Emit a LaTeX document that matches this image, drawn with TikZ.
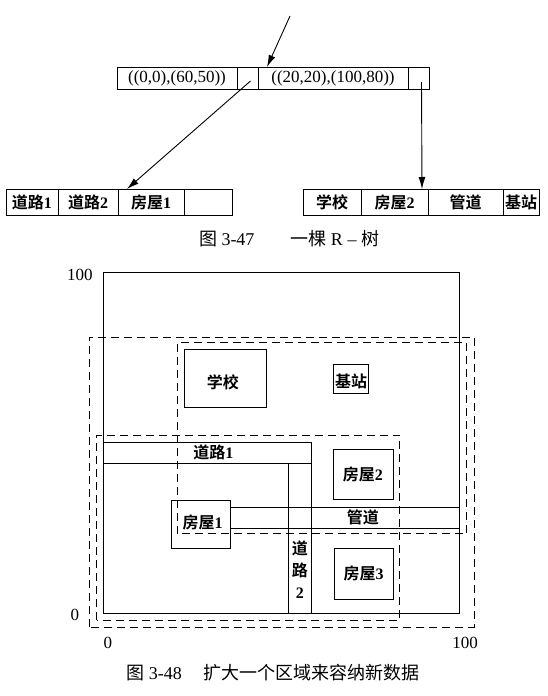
\documentclass[tikz,border=0pt]{standalone}
\usepackage{fontspec}
\setmainfont{Liberation Serif}
\newfontfamily\zhfont{Noto Sans CJK SC}[BoldFont={Noto Sans CJK SC Bold}]
\newcommand{\zh}[1]{{\zhfont #1}}
\usetikzlibrary{arrows.meta,positioning}
\tikzset{%
  >={Latex[width=7pt,length=12pt]},
  % Specifications for the cells of the tree nodes:
            cell/.style = {rectangle, draw=black, inner sep=0pt,
                           outer sep=0pt, text centered},
         keycell/.style = {cell, minimum height=22pt,
                           font=\fontsize{17}{20}\selectfont},
        leafcell/.style = {cell, minimum height=26pt,
                           font=\bfseries\fontsize{16}{19}\selectfont},
  % Specifications for the regions in the plane:
          region/.style = {draw=black},
        boundbox/.style = {draw=black, dash pattern=on 8pt off 5pt},
      regionname/.style = {font=\bfseries\fontsize{16}{22}\selectfont,
                           align=center},
       axisvalue/.style = {font=\fontsize{17}{20}\selectfont},
      figcaption/.style = {font=\fontsize{18}{21}\selectfont},
}

\begin{document}
\begin{tikzpicture}[x=1pt, y=-1pt, line width=0.9pt]
  \useasboundingbox (0,0) rectangle (548,696);

  % Root of the R-tree
  \node (root_key_1)  [keycell, minimum width=120pt, anchor=west] at (117,78) {((0,0),(60,50))};
  \node (root_ptr_1)  [keycell, minimum width=21pt, right=0pt of root_key_1]  {};
  \node (root_key_2)  [keycell, minimum width=150pt, right=0pt of root_ptr_1] {((20,20),(100,80))};
  \node (root_ptr_2)  [keycell, minimum width=21pt, right=0pt of root_key_2]  {};

  % Left leaf
  \node (leaf_a_1)    [leafcell, minimum width=52pt, anchor=west] at (6,202) {\zh{道路}1};
  \node (leaf_a_2)    [leafcell, minimum width=60pt, right=0pt of leaf_a_1]  {\zh{道路}2};
  \node (leaf_a_3)    [leafcell, minimum width=66pt, right=0pt of leaf_a_2]  {\zh{房屋}1};
  \node (leaf_a_4)    [leafcell, minimum width=48pt, right=0pt of leaf_a_3]  {};

  % Right leaf
  \node (leaf_b_1)    [leafcell, minimum width=58pt, anchor=west] at (303,202) {\zh{学校}};
  \node (leaf_b_2)    [leafcell, minimum width=67pt, right=0pt of leaf_b_1]  {\zh{房屋}2};
  \node (leaf_b_3)    [leafcell, minimum width=75pt, right=0pt of leaf_b_2]  {\zh{管道}};
  \node (leaf_b_4)    [leafcell, minimum width=36pt, right=0pt of leaf_b_3]  {\zh{基站}};

  \coordinate (root_in) at (290,16);

  % Pointers
  \draw[->]              (root_in) -- ([xshift=9pt]root_key_2.north west);
  \draw[->] ([xshift=3pt,yshift=-3pt]root_ptr_1.center) -- ([xshift=9pt]leaf_a_3.north west);
  \draw[->] ([xshift=3pt,yshift=-4pt]root_ptr_2.center) -- ([xshift=-6pt]leaf_b_2.north east);

  \node (cap_tree)    [figcaption] at (289,239) {\zh{图} 3-47\hspace{2em}\zh{一棵} R – \zh{树}};

  % The plane, in data units
  \begin{scope}[shift={(103,613)}, x=3.56pt, y=3.41pt]
    \draw[region] (0,0) rectangle (100,100);
    \draw[region] (0,44) rectangle (58.5,50);
    \draw[region] (52.2,0) rectangle (58.5,44);
    \draw[region] (19.1,18.8) rectangle (35.7,33.1);
    \draw[region] (35.7,24.9) rectangle (100,31.1);
    \draw[region] (64.6,33.4) rectangle (81.5,48.1);
    \draw[region] (64.9,4.1) rectangle (81.5,18.8);
    \draw[region] (22.8,60.4) rectangle (45.8,77.4);
    \draw[region] (64.6,64.5) rectangle (74.7,73.0);

    \draw[boundbox] (-3.9,-4.1) rectangle (104.2,80.9);
    \draw[boundbox] (20.8,23.2) rectangle (102.2,79.2);
    \draw[boundbox] (-1.7,-2.1) rectangle (83.4,52.2);

    \node (road_1)    [regionname] at (31,47)     {\zh{道路}1};
    \node (road_2)    [regionname] at (55.3,12.6) {\zh{道}\\\zh{路}\\2};
    \node (house_1)   [regionname] at (28,26.5)   {\zh{房屋}1};
    \node (house_2)   [regionname] at (73,40.7)   {\zh{房屋}2};
    \node (house_3)   [regionname] at (73.2,11.5) {\zh{房屋}3};
    \node (pipe)      [regionname] at (73,28)     {\zh{管道}};
    \node (school)    [regionname] at (33.7,67.7) {\zh{学校}};
    \node (station)   [regionname] at (69.7,68)   {\zh{基站}};

    \node (y_max)     [axisvalue] at (-6.5,99.1)  {100};
    \node (y_min)     [axisvalue] at (-7.9,-0.6)  {0};
    \node (x_min)     [axisvalue] at (1.4,-8.8)   {0};
    \node (x_max)     [axisvalue] at (101.7,-8.8) {100};
  \end{scope}

  \node (cap_region)  [figcaption] at (273,673) {\zh{图} 3-48\hspace{1.2em}\zh{扩大一个区域来容纳新数据}};
\end{tikzpicture}
\end{document}
